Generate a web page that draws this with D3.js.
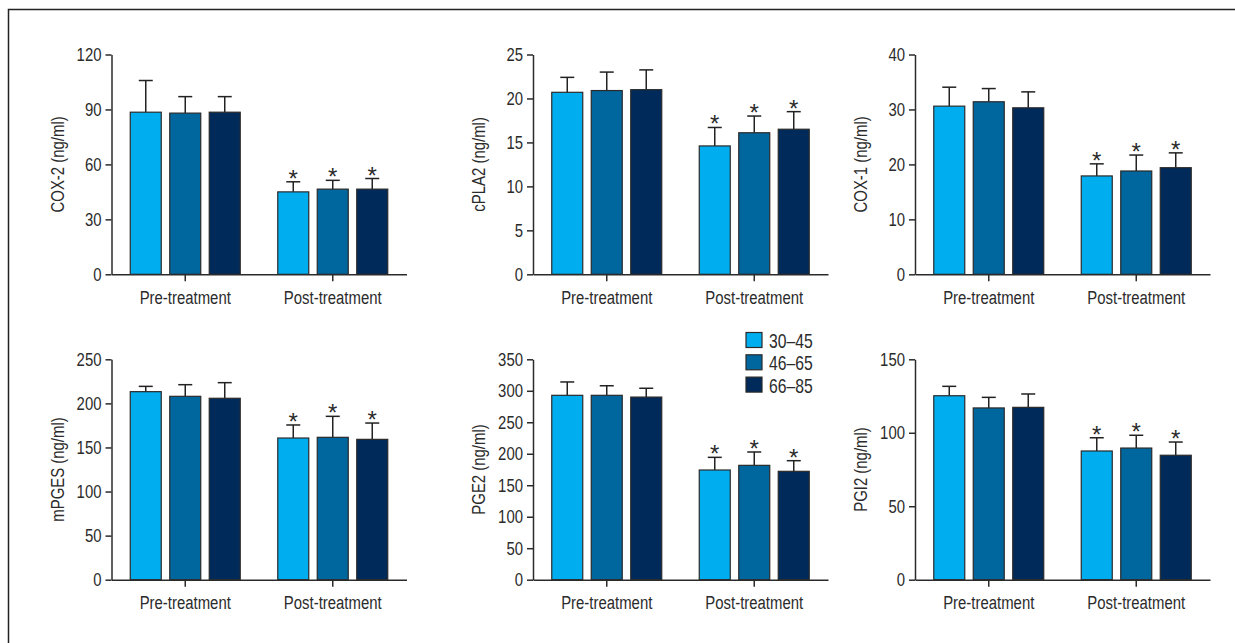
<!DOCTYPE html>
<html>
<head>
<meta charset="utf-8">
<script src="https://cdn.jsdelivr.net/npm/d3@7"></script>
<style>
  html, body { margin: 0; padding: 0; background: #fff; }
  svg { display: block; }
  text { font-family: "Liberation Sans", Arial, sans-serif; fill: #2b2b2b; }
</style>
</head>
<body>
<svg id="chart" width="1235" height="643"></svg>
<script>
// Treatment phases and age groups
const phases = ["Pre-treatment", "Post-treatment"];
const ageGroups = ["30–45", "46–65", "66–85"];
const ageColors = ["#00aeef", "#00679e", "#002a5a"];

// Means (rows: pre, post; columns: age groups) and SD for each marker
const cox2Mean = [[88.5, 88, 88.5], [45, 46.5, 46.5]];
const cox2SD = [[17.3, 9, 8.5], [5.5, 4.8, 5.8]];
const cox2Ticks = [0, 30, 60, 90, 120];

const cpla2Mean = [[20.7, 20.9, 21.0], [14.6, 16.1, 16.5]];
const cpla2SD = [[1.7, 2.1, 2.25], [2.1, 1.9, 2.0]];
const cpla2Ticks = [0, 5, 10, 15, 20, 25];

const cox1Mean = [[30.6, 31.4, 30.3], [17.9, 18.8, 19.4]];
const cox1SD = [[3.45, 2.4, 2.9], [2.2, 2.9, 2.7]];
const cox1Ticks = [0, 10, 20, 30, 40];

const mpgesMean = [[213.3, 208, 205.8], [160.7, 161.5, 159.2]];
const mpgesSD = [[6, 13.2, 17.7], [14.8, 23.8, 18.5]];
const mpgesTicks = [0, 50, 100, 150, 200, 250];

const pge2Mean = [[292.8, 292.8, 290], [174.2, 181.6, 172.1]];
const pge2SD = [[21.2, 15.2, 14], [20.1, 21.2, 16.9]];
const pge2Ticks = [0, 50, 100, 150, 200, 250, 300, 350];

const pgi2Mean = [[125.2, 116.9, 117.3], [87.6, 89.6, 84.7]];
const pgi2SD = [[6.4, 7.2, 9.1], [9.0, 8.7, 9.0]];
const pgi2Ticks = [0, 50, 100, 150];

// Post-treatment values marked as significant
const significant = [[false, false, false], [true, true, true]];

const panels = [
  { title: "COX-2 (ng/ml)", mean: cox2Mean, sd: cox2SD, ticks: cox2Ticks, col: 0, row: 0 },
  { title: "cPLA2 (ng/ml)", mean: cpla2Mean, sd: cpla2SD, ticks: cpla2Ticks, col: 1, row: 0 },
  { title: "COX-1 (ng/ml)", mean: cox1Mean, sd: cox1SD, ticks: cox1Ticks, col: 2, row: 0 },
  { title: "mPGES (ng/ml)", mean: mpgesMean, sd: mpgesSD, ticks: mpgesTicks, col: 0, row: 1 },
  { title: "PGE2 (ng/ml)", mean: pge2Mean, sd: pge2SD, ticks: pge2Ticks, col: 1, row: 1 },
  { title: "PGI2 (ng/ml)", mean: pgi2Mean, sd: pgi2SD, ticks: pgi2Ticks, col: 2, row: 1 }
];

// Layout
const colX = [111.5, 533, 915];      // y-axis position of each column
const rowTop = [54.5, 359.3];         // top of the value axis per row
const rowBase = [274.3, 579.7];       // zero line per row
const plotW = 295;
const FONT = 19;
const NARROW = 0.785;                 // horizontal squeeze for a condensed look
const ink = "#2b2b2b";

// Squeeze text horizontally while keeping its anchor point in place
function condense(sel, extra) {
  sel.each(function () {
    const t = d3.select(this);
    const x = +(t.attr("x") || 0);
    t.attr("x", x / NARROW)
     .attr("transform", (extra ? extra + " " : "") + `scale(${NARROW},1)`);
  });
}

const svg = d3.select("#chart");

// Outer frame (top and left edges fall inside the view)
svg.append("path")
  .attr("d", "M8.5,643 V9.5 H1235")
  .attr("fill", "none")
  .attr("stroke", "#222")
  .attr("stroke-width", 1.5);

panels.forEach(p => {
  const g = svg.append("g").attr("transform", `translate(${colX[p.col]},0)`);
  const top = rowTop[p.row], base = rowBase[p.row];

  const y = d3.scaleLinear().domain([0, d3.max(p.ticks)]).range([base, top]);
  const x0 = d3.scaleBand().domain(phases).range([0, plotW]).padding(0);
  const x1 = d3.scaleBand().domain(ageGroups).range([0, x0.bandwidth()])
    .paddingInner(0.215).paddingOuter(0.475);

  // Bars, error bars and significance marks
  phases.forEach((ph, i) => {
    const grp = g.append("g").attr("transform", `translate(${x0(ph)},0)`);
    ageGroups.forEach((ag, j) => {
      const m = p.mean[i][j], s = p.sd[i][j];
      const bx = x1(ag), bw = x1.bandwidth(), cx = bx + bw / 2;
      grp.append("line")
        .attr("x1", cx).attr("x2", cx)
        .attr("y1", y(m)).attr("y2", y(m + s))
        .attr("stroke", "#222").attr("stroke-width", 1.5);
      grp.append("line")
        .attr("x1", cx - 7).attr("x2", cx + 7)
        .attr("y1", y(m + s)).attr("y2", y(m + s))
        .attr("stroke", "#222").attr("stroke-width", 1.5);
      grp.append("rect")
        .attr("x", bx).attr("y", y(m))
        .attr("width", bw).attr("height", y(0) - y(m))
        .attr("fill", ageColors[j])
        .attr("stroke", "#2a2a2a").attr("stroke-width", 1.2);
      if (significant[i][j]) {
        grp.append("text")
          .attr("x", cx).attr("y", y(m + s) + 5)
          .attr("text-anchor", "middle")
          .attr("font-size", 24)
          .text("*");
      }
    });
  });

  // Value axis
  const yAxis = g.append("g")
    .call(d3.axisLeft(y).tickValues(p.ticks).tickSize(6).tickPadding(4).tickSizeOuter(0));
  yAxis.select(".domain").attr("stroke", ink).attr("stroke-width", 1.5);
  yAxis.selectAll(".tick line").attr("stroke", ink).attr("stroke-width", 1.5);
  yAxis.selectAll(".tick text").attr("font-size", FONT).attr("fill", ink)
    .attr("font-family", null).call(condense);

  // Category axis
  const xAxis = g.append("g").attr("transform", `translate(0,${base})`)
    .call(d3.axisBottom(x0).tickSize(7).tickPadding(9).tickSizeOuter(0));
  xAxis.select(".domain").attr("stroke", ink).attr("stroke-width", 1.5);
  xAxis.selectAll(".tick line").attr("stroke", ink).attr("stroke-width", 1.5);
  xAxis.selectAll(".tick text").attr("font-size", FONT).attr("fill", ink)
    .attr("font-family", null).call(condense);

  // Axis title
  g.append("text")
    .attr("text-anchor", "middle")
    .attr("font-size", FONT)
    .text(p.title)
    .call(condense, `translate(-48,${(top + base) / 2}) rotate(-90)`);
});

// Legend
const legend = svg.append("g").attr("transform", "translate(746,332.5)");
ageGroups.forEach((ag, j) => {
  const row = legend.append("g").attr("transform", `translate(0,${j * 22.3})`);
  row.append("rect")
    .attr("width", 16).attr("height", 15)
    .attr("fill", ageColors[j])
    .attr("stroke", "#2a2a2a").attr("stroke-width", 1.2);
  row.append("text")
    .attr("x", 23).attr("y", 15.5)
    .attr("font-size", FONT + 1)
    .text(ag)
    .call(condense);
});
</script>
</body>
</html>
